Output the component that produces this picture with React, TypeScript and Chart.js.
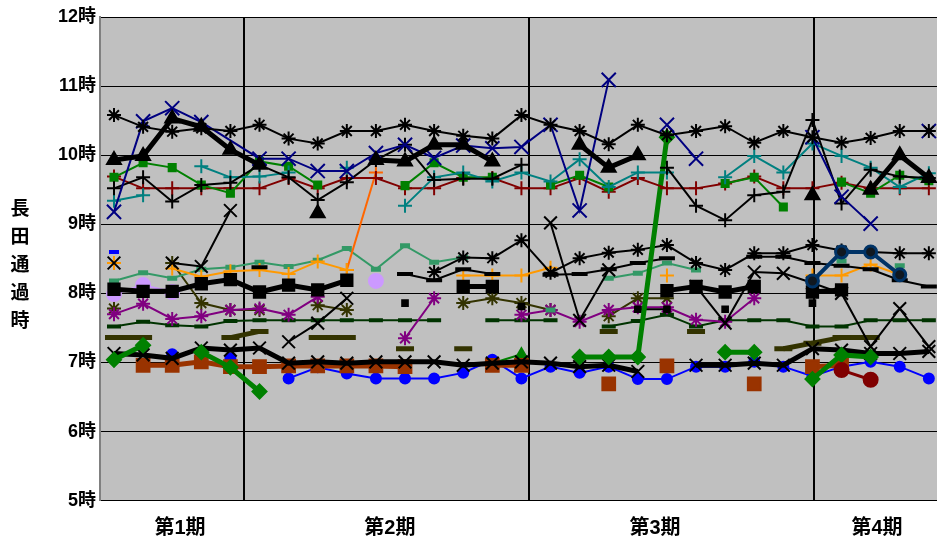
import { useEffect, useRef } from 'react';
import { Chart, registerables } from 'chart.js';

Chart.register(...registerables);

// Survey sessions along the x axis (0..28)
const sessions = [0, 1, 2, 3, 4, 5, 6, 7, 8, 9, 10, 11, 12, 13, 14, 15, 16, 17, 18, 19, 20, 21, 22, 23, 24, 25, 26, 27, 28];
const periodLabels = ['第1期', '第2期', '第3期', '第4期'];
const periodLabelAt = [2.27, 9.48, 18.59, 26.22];
const periodDividers = [4.45, 14.27, 24.07];
const hourTicks = [5, 6, 7, 8, 9, 10, 11, 12];
const axisTitle = '長田通過時';

const _ = null;

// Upper group (around 9-11 o'clock)
const blackStarHigh = [10.58, 10.41, 10.34, 10.39, 10.35, 10.44, 10.24, 10.17, 10.35, 10.35, 10.44, 10.35, 10.28, 10.24, 10.58, 10.44, 10.35, 10.16, 10.44, 10.29, 10.35, 10.42, 10.18, 10.35, 10.26, 10.18, 10.25, 10.35, 10.35];
const navyCrossEarly = [9.18, 10.49, 10.68, 10.48, _, 9.95, 9.95, 9.77, 9.77, 10.03, 10.15, 9.96, 10.14, 10.10, 10.12, 10.44, 9.20, 11.09, _, _, _, _, _, _, _, _, _, _, _];
const navyCrossLate = [_, _, _, _, _, _, _, _, _, _, _, _, _, _, _, _, _, _, _, 10.44, 9.95, _, _, _, 10.26, 9.40, 9.01, _, 10.35];
const blackTriangle = [9.93, 9.99, 10.53, 10.41, 10.08, 9.86, _, 9.16, _, 9.93, 9.91, 10.15, 10.15, 9.91, _, _, 10.15, 9.82, 10.00, _, _, _, _, _, 9.42, _, 9.50, 10.00, 9.67];
const blackPlus = [9.52, 9.68, 9.33, 9.57, 9.60, 9.86, 9.68, 9.35, 9.61, 9.93, 10.15, 9.64, 9.66, 9.66, 9.86, _, _, _, _, 9.82, 9.27, 9.06, 9.42, 9.47, 10.51, 9.30, 9.79, 9.69, 9.67];
const maroonPlus = [9.69, 9.52, 9.52, 9.52, 9.52, 9.52, 9.67, 9.52, 9.67, 9.67, 9.52, 9.52, 9.67, 9.67, 9.52, 9.52, 9.67, 9.47, 9.67, 9.52, 9.52, 9.59, 9.69, 9.52, 9.52, 9.60, 9.52, 9.52, 9.52];
const greenSquare = [9.68, 9.89, 9.82, 9.57, 9.45, 9.91, 9.84, 9.57, _, _, 9.56, 9.89, 9.68, 9.68, _, 9.57, 9.71, 9.54, _, _, _, 9.59, 9.68, 9.25, _, 9.61, 9.45, 9.71, 9.63];
const tealPlus = [9.34, 9.42, _, 9.84, 9.68, 9.69, 9.75, _, 9.82, _, 9.27, 9.68, 9.75, 9.62, 9.75, 9.62, 9.94, 9.54, 9.75, 9.75, _, 9.68, 9.99, 9.75, 10.17, 9.99, 9.82, 9.54, 9.74];

// Middle group (around 7.5-9 o'clock)
const orangePlus = [8.44, _, 8.36, 8.24, 8.32, 8.34, 8.28, 8.46, 8.34, _, _, _, 8.26, 8.26, 8.26, 8.37, _, _, _, 8.26, _, _, _, _, 8.26, 8.26, 8.42, 8.27, _];
const redOrangePlus = [_, _, _, _, _, _, _, _, 8.34, 9.75, _, _, _, _, _, _, _, _, _, _, _, _, _, _, _, _, _, _, _];
const seaGreenDash = [8.18, 8.30, 8.22, 8.35, 8.38, 8.45, 8.39, 8.48, 8.65, 8.35, 8.69, 8.45, 8.52, _, _, 7.76, _, 8.22, 8.29, 8.44, 8.34, _, _, _, _, 8.47, _, 8.40, _];
const blackSquareThick = [8.06, 8.03, 8.03, 8.14, 8.20, 8.02, 8.12, 8.05, 8.19, _, _, _, 8.10, 8.10, _, _, _, _, _, 8.04, 8.10, 8.02, 8.10, _, 8.02, 8.05, _, _, _];
const blackDash = [_, _, _, _, _, 8.38, _, _, _, _, 8.28, 8.19, 8.35, 8.28, _, 8.27, 8.28, 8.35, 8.44, 8.51, _, _, 8.53, 8.53, 8.44, 8.40, 8.35, 8.19, 8.10];
const blackStarMid = [_, _, _, _, _, _, _, _, _, _, _, 8.31, 8.52, 8.51, 8.77, 8.30, 8.51, 8.59, 8.63, 8.70, 8.44, 8.34, 8.58, 8.58, 8.70, 8.62, 8.60, 8.58, 8.58];
const blackCross = [8.44, _, 8.44, 8.39, 9.20, _, 7.30, 7.57, 7.93, _, _, _, _, _, _, 9.02, 7.61, 8.34, _, _, 8.10, 7.57, 8.31, 8.29, 8.15, 8.00, 7.23, 7.78, 7.23];
const lilacDot = [7.99, 8.12, 8.02, _, _, _, _, _, _, 8.18, _, _, _, _, _, _, _, _, _, _, _, _, _, _, _, _, _, _, _];
const blueTick = [8.60, _, _, _, _, _, _, _, _, _, _, _, _, _, _, _, _, _, _, _, _, _, _, _, _, _, _, _, _];
const purpleStar = [7.70, 7.85, 7.63, 7.67, 7.76, 7.78, 7.69, 7.95, _, _, 7.35, 7.93, _, _, 7.69, 7.76, 7.59, 7.76, 7.80, 7.80, 7.62, 7.59, 7.93, _, _, _, _, _, _];
const oliveStar = [7.78, _, 8.44, 7.86, 7.76, 7.76, _, 7.83, 7.76, _, _, _, 7.86, 7.93, 7.86, 7.76, _, 7.67, 7.93, 7.93, _, _, _, _, _, _, _, _, _];
const darkGreenDash = [7.52, 7.59, 7.54, 7.52, 7.60, 7.61, 7.61, 7.61, 7.61, 7.61, 7.61, 7.61, _, 7.61, 7.61, 7.61, _, 7.52, 7.60, 7.69, 7.52, 7.61, 7.61, 7.61, 7.52, 7.52, 7.61, 7.61, 7.61];
const oliveBar = [7.36, 7.36, _, _, 7.36, 7.45, _, 7.36, 7.36, _, 7.20, _, 7.20, _, _, _, _, 7.45, _, _, 7.45, _, _, 7.20, 7.28, 7.36, 7.36, _, _];
const blackSmallSquare = [_, _, _, _, _, _, _, _, _, _, 7.86, _, _, _, 7.81, _, _, _, 7.77, 7.77, _, 7.77, _, _, 7.86, _, _, _, _];
const navyRing = [_, _, _, _, _, _, _, _, _, _, _, _, _, _, _, _, _, _, _, _, _, _, _, _, 8.18, 8.60, 8.60, 8.27, _];

// Lower group (around 6.5-7.3 o'clock)
const blackCrossThick = [7.13, 7.11, 7.06, 7.21, 7.18, 7.21, 6.99, 7.01, 6.99, 7.01, 7.01, 7.01, 6.96, 6.99, 7.01, 6.99, 6.94, 6.96, 6.87, _, 6.96, 6.96, 6.99, 6.96, 7.20, 7.18, 7.13, 7.13, 7.16];
const greenDiamond = [7.04, 7.25, _, 7.15, 6.93, 6.58, _, _, _, _, _, _, _, _, _, _, 7.08, 7.08, 7.08, 10.26, _, 7.15, 7.15, _, 6.76, 7.11, 7.08, _, _];
const greenTriangle = [_, _, _, _, _, _, _, _, _, _, _, _, _, 6.99, 7.12, _, _, _, _, _, _, _, _, _, _, _, _, _, _];
const brownSquare = [_, 6.96, 6.96, 7.01, 6.94, 6.94, 6.95, 6.95, 6.95, 6.95, 6.94, _, _, 6.96, 6.96, _, _, 6.69, _, 6.95, _, _, 6.69, _, 6.94, 6.96, _, _, _];
const blueDot = [_, _, 7.12, _, 7.06, _, 6.77, 6.93, 6.84, 6.77, 6.77, 6.77, 6.85, 7.04, 6.77, 6.94, 6.85, 6.94, 6.76, 6.76, 6.94, 6.94, 7.01, 6.94, 6.80, 6.94, 7.01, 6.94, 6.77];
const maroonDot = [_, _, _, _, _, _, _, _, _, _, _, _, _, _, _, _, _, _, _, _, _, _, _, _, _, 6.89, 6.75, _, _];

type Style = {
  color: string;
  width: number;
  marker: string;
  size: number;
  markerWidth?: number;
  fill?: string;
  span?: boolean;
};

function series(label: string, data: (number | null)[], s: Style) {
  return {
    label,
    data,
    borderColor: s.color,
    borderWidth: s.width,
    pointStyle: s.marker,
    pointRadius: s.size,
    pointBorderWidth: s.markerWidth ?? 2,
    pointBorderColor: s.color,
    pointBackgroundColor: s.fill ?? s.color,
    spanGaps: s.span ?? false,
    tension: 0,
    fill: false,
  };
}

const family = "'Liberation Sans', 'Noto Sans CJK JP', sans-serif";
const hourFont = { family, size: 18, weight: 'bold' as const };
const periodFont = { family, size: 20, weight: 'bold' as const };

const plotDecor = {
  id: 'plotDecor',
  beforeDraw(chart: any) {
    const { ctx, chartArea } = chart;
    const { left, top, right, bottom } = chartArea;
    ctx.save();
    ctx.fillStyle = '#ffffff';
    ctx.fillRect(0, 0, chart.width, chart.height);
    ctx.fillStyle = '#c0c0c0';
    ctx.fillRect(left, top, right - left, bottom - top);
    ctx.restore();
  },
  beforeDatasetsDraw(chart: any) {
    const { ctx, chartArea, scales } = chart;
    ctx.save();
    ctx.strokeStyle = '#000000';
    ctx.lineWidth = 2;
    for (const v of periodDividers) {
      const x = Math.round(scales.x.getPixelForValue(v));
      ctx.beginPath();
      ctx.moveTo(x, chartArea.top);
      ctx.lineTo(x, chartArea.bottom);
      ctx.stroke();
    }
    ctx.restore();
  },
  afterDraw(chart: any) {
    const { ctx, chartArea } = chart;
    ctx.save();
    ctx.fillStyle = '#000000';
    ctx.font = "bold 19px 'Noto Sans CJK JP', sans-serif";
    ctx.textAlign = 'center';
    ctx.textBaseline = 'middle';
    const chars = Array.from(axisTitle);
    const step = 28;
    const mid = (chartArea.top + chartArea.bottom) / 2 + 5;
    chars.forEach((c, i) => {
      ctx.fillText(c, 20, mid + (i - (chars.length - 1) / 2) * step);
    });
    ctx.restore();
  },
};

export default function App() {
  const ref = useRef<HTMLCanvasElement | null>(null);

  useEffect(() => {
    document.body.style.margin = '0';
    const canvas = ref.current;
    if (!canvas) return;

    const datasets = [
      series('navy-ring', navyRing, { color: '#003366', width: 4, marker: 'circle', size: 6, markerWidth: 3, fill: '#101820' }),
      series('maroon-dot', maroonDot, { color: '#800000', width: 3, marker: 'circle', size: 7, fill: '#800000' }),
      series('black-triangle', blackTriangle, { color: '#000000', width: 5, marker: 'triangle', size: 8 }),
      series('black-star-high', blackStarHigh, { color: '#000000', width: 2, marker: 'star', size: 7 }),
      series('navy-cross-early', navyCrossEarly, { color: '#000080', width: 2, marker: 'crossRot', size: 10, span: true }),
      series('navy-cross-late', navyCrossLate, { color: '#000080', width: 2, marker: 'crossRot', size: 10 }),
      series('black-plus', blackPlus, { color: '#000000', width: 2, marker: 'cross', size: 7 }),
      series('teal-plus', tealPlus, { color: '#008080', width: 2, marker: 'cross', size: 7 }),
      series('green-square', greenSquare, { color: '#008000', width: 2, marker: 'rect', size: 5 }),
      series('maroon-plus', maroonPlus, { color: '#800000', width: 2, marker: 'cross', size: 7 }),
      series('green-diamond', greenDiamond, { color: '#008000', width: 5, marker: 'rectRot', size: 7 }),
      series('black-cross-thick', blackCrossThick, { color: '#000000', width: 5, marker: 'crossRot', size: 9 }),
      series('brown-square', brownSquare, { color: '#993300', width: 5, marker: 'rect', size: 9 }),
      series('blue-dot', blueDot, { color: '#0000ff', width: 2, marker: 'circle', size: 5 }),
      series('green-triangle', greenTriangle, { color: '#008000', width: 2, marker: 'triangle', size: 6 }),
      series('black-square-thick', blackSquareThick, { color: '#000000', width: 5, marker: 'rect', size: 8 }),
      series('black-small-square', blackSmallSquare, { color: '#000000', width: 2, marker: 'rect', size: 4 }),
      series('black-dash', blackDash, { color: '#000000', width: 2, marker: 'line', size: 8, markerWidth: 4 }),
      series('black-star-mid', blackStarMid, { color: '#000000', width: 2, marker: 'star', size: 7 }),
      series('black-cross', blackCross, { color: '#000000', width: 2, marker: 'crossRot', size: 9 }),
      series('lilac-dot', lilacDot, { color: '#cc99ff', width: 2, marker: 'circle', size: 7 }),
      series('blue-tick', blueTick, { color: '#0000ff', width: 2, marker: 'line', size: 5, markerWidth: 4 }),
      series('orange-plus', orangePlus, { color: '#ff9900', width: 2, marker: 'cross', size: 7 }),
      series('red-orange-plus', redOrangePlus, { color: '#ff6600', width: 2, marker: 'cross', size: 7 }),
      series('sea-green-dash', seaGreenDash, { color: '#339966', width: 2, marker: 'line', size: 5, markerWidth: 5 }),
      series('purple-star', purpleStar, { color: '#800080', width: 2, marker: 'star', size: 7 }),
      series('olive-star', oliveStar, { color: '#333300', width: 2, marker: 'star', size: 7 }),
      series('dark-green-dash', darkGreenDash, { color: '#003300', width: 2, marker: 'line', size: 7, markerWidth: 4 }),
      series('olive-bar', oliveBar, { color: '#333300', width: 5, marker: 'line', size: 9, markerWidth: 5 }),
    ];

    const chart = new Chart(canvas, {
      type: 'line',
      data: { labels: sessions, datasets },
      options: {
        responsive: false,
        animation: false,
        layout: { autoPadding: false, padding: { top: 17, right: 0, bottom: 0, left: 0 } },
        plugins: { legend: { display: false }, tooltip: { enabled: false } },
        scales: {
          x: {
            type: 'linear',
            min: -0.481,
            max: 28.28,
            grid: { display: false },
            border: { display: false },
            afterBuildTicks: (scale: any) => {
              scale.ticks = periodLabelAt.map((value) => ({ value }));
            },
            afterFit: (scale: any) => {
              scale.height = 43.3;
              scale.paddingLeft = 0;
              scale.paddingRight = 0;
            },
            ticks: {
              autoSkip: false,
              maxRotation: 0,
              padding: 8,
              color: '#000000',
              font: periodFont,
              callback: (_v: any, i: number) => periodLabels[i],
            },
          },
          y: {
            min: 5,
            max: 12,
            afterBuildTicks: (scale: any) => {
              scale.ticks = hourTicks.map((value) => ({ value }));
            },
            afterFit: (scale: any) => {
              scale.width = 100;
              scale.paddingTop = 0;
              scale.paddingBottom = 0;
            },
            grid: { color: '#000000', lineWidth: 1, drawTicks: false },
            border: { color: '#808080', width: 2 },
            ticks: {
              padding: 4,
              color: '#000000',
              font: hourFont,
              callback: (v: any) => `${v}時`,
            },
          },
        },
      },
      plugins: [plotDecor],
    } as any);

    return () => chart.destroy();
  }, []);

  return (
    <div style={{ position: 'fixed', left: 0, top: 0, width: 937, height: 544, background: '#ffffff' }}>
      <canvas ref={ref} width={937} height={544} style={{ display: 'block' }} />
    </div>
  );
}
